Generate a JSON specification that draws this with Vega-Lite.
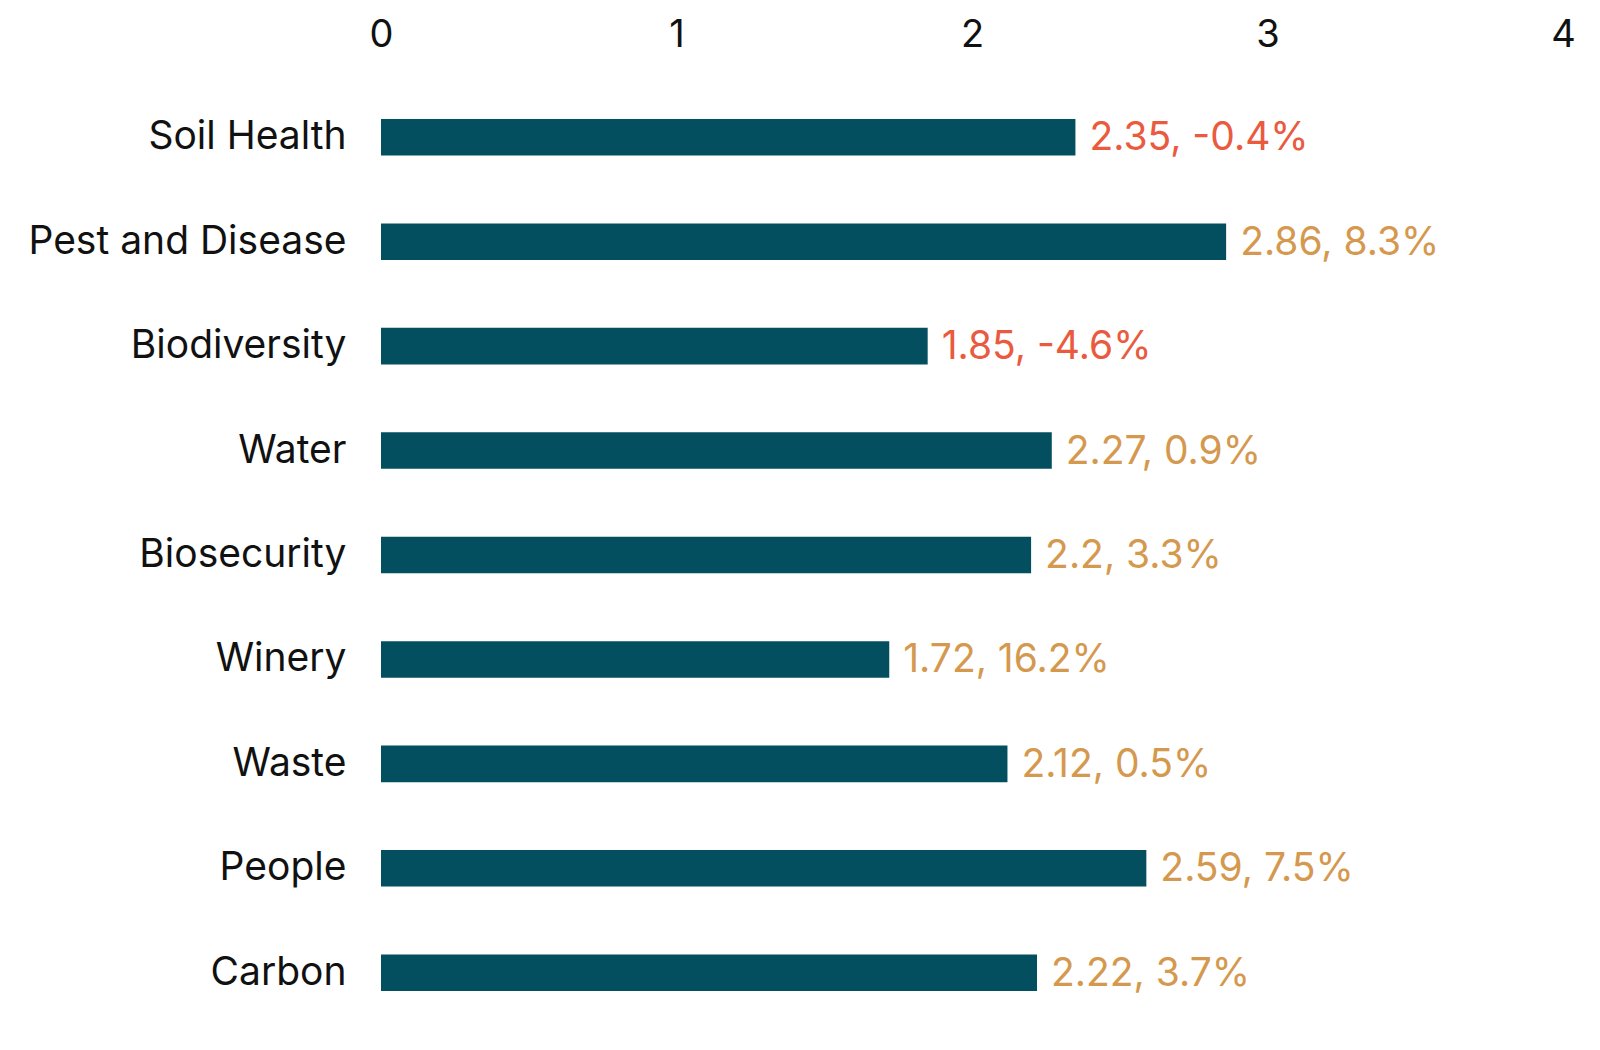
{
  "$schema": "https://vega.github.io/schema/vega-lite/v6.json",
  "autosize": {"type": "none"},
  "padding": {"left": 381, "top": 85, "right": 37, "bottom": 25},
  "width": 1182,
  "height": 940,
  "background": "#ffffff",
  "config": {
    "view": {"stroke": null},
    "font": "Inter"
  },
  "data": {
    "values": [
      {"category": "Soil Health", "score": 2.35, "change": -0.4},
      {"category": "Pest and Disease", "score": 2.86, "change": 8.3},
      {"category": "Biodiversity", "score": 1.85, "change": -4.6},
      {"category": "Water", "score": 2.27, "change": 0.9},
      {"category": "Biosecurity", "score": 2.2, "change": 3.3},
      {"category": "Winery", "score": 1.72, "change": 16.2},
      {"category": "Waste", "score": 2.12, "change": 0.5},
      {"category": "People", "score": 2.59, "change": 7.5},
      {"category": "Carbon", "score": 2.22, "change": 3.7}
    ]
  },
  "transform": [
    {"calculate": "datum.score + ', ' + datum.change + '%'", "as": "label"}
  ],
  "encoding": {
    "y": {
      "field": "category",
      "type": "nominal",
      "sort": null,
      "scale": {"paddingInner": 0.65, "paddingOuter": 0.325},
      "axis": {
        "title": null,
        "domain": false,
        "ticks": false,
        "labelFontSize": 39,
        "labelFontWeight": 400,
        "labelColor": "#111111",
        "labelPadding": 35,
        "labelLimit": 400
      }
    },
    "x": {
      "field": "score",
      "type": "quantitative",
      "scale": {"domain": [0, 4], "nice": false},
      "axis": {
        "orient": "top",
        "title": null,
        "domain": false,
        "ticks": false,
        "grid": false,
        "values": [0, 1, 2, 3, 4],
        "labelFontSize": 38,
        "labelFontWeight": 400,
        "labelColor": "#111111",
        "labelPadding": 31,
        "labelFlush": false,
        "labelOverlap": false
      }
    }
  },
  "layer": [
    {
      "mark": {"type": "bar", "color": "#034f5f"}
    },
    {
      "mark": {"type": "text", "align": "left", "baseline": "middle", "dx": 14, "dy": 1, "fontSize": 39, "fontWeight": 400},
      "encoding": {
        "text": {"field": "label"},
        "color": {
          "condition": {"test": "datum.change < 0", "value": "#ea5a3f"},
          "value": "#d4994e"
        }
      }
    }
  ]
}
